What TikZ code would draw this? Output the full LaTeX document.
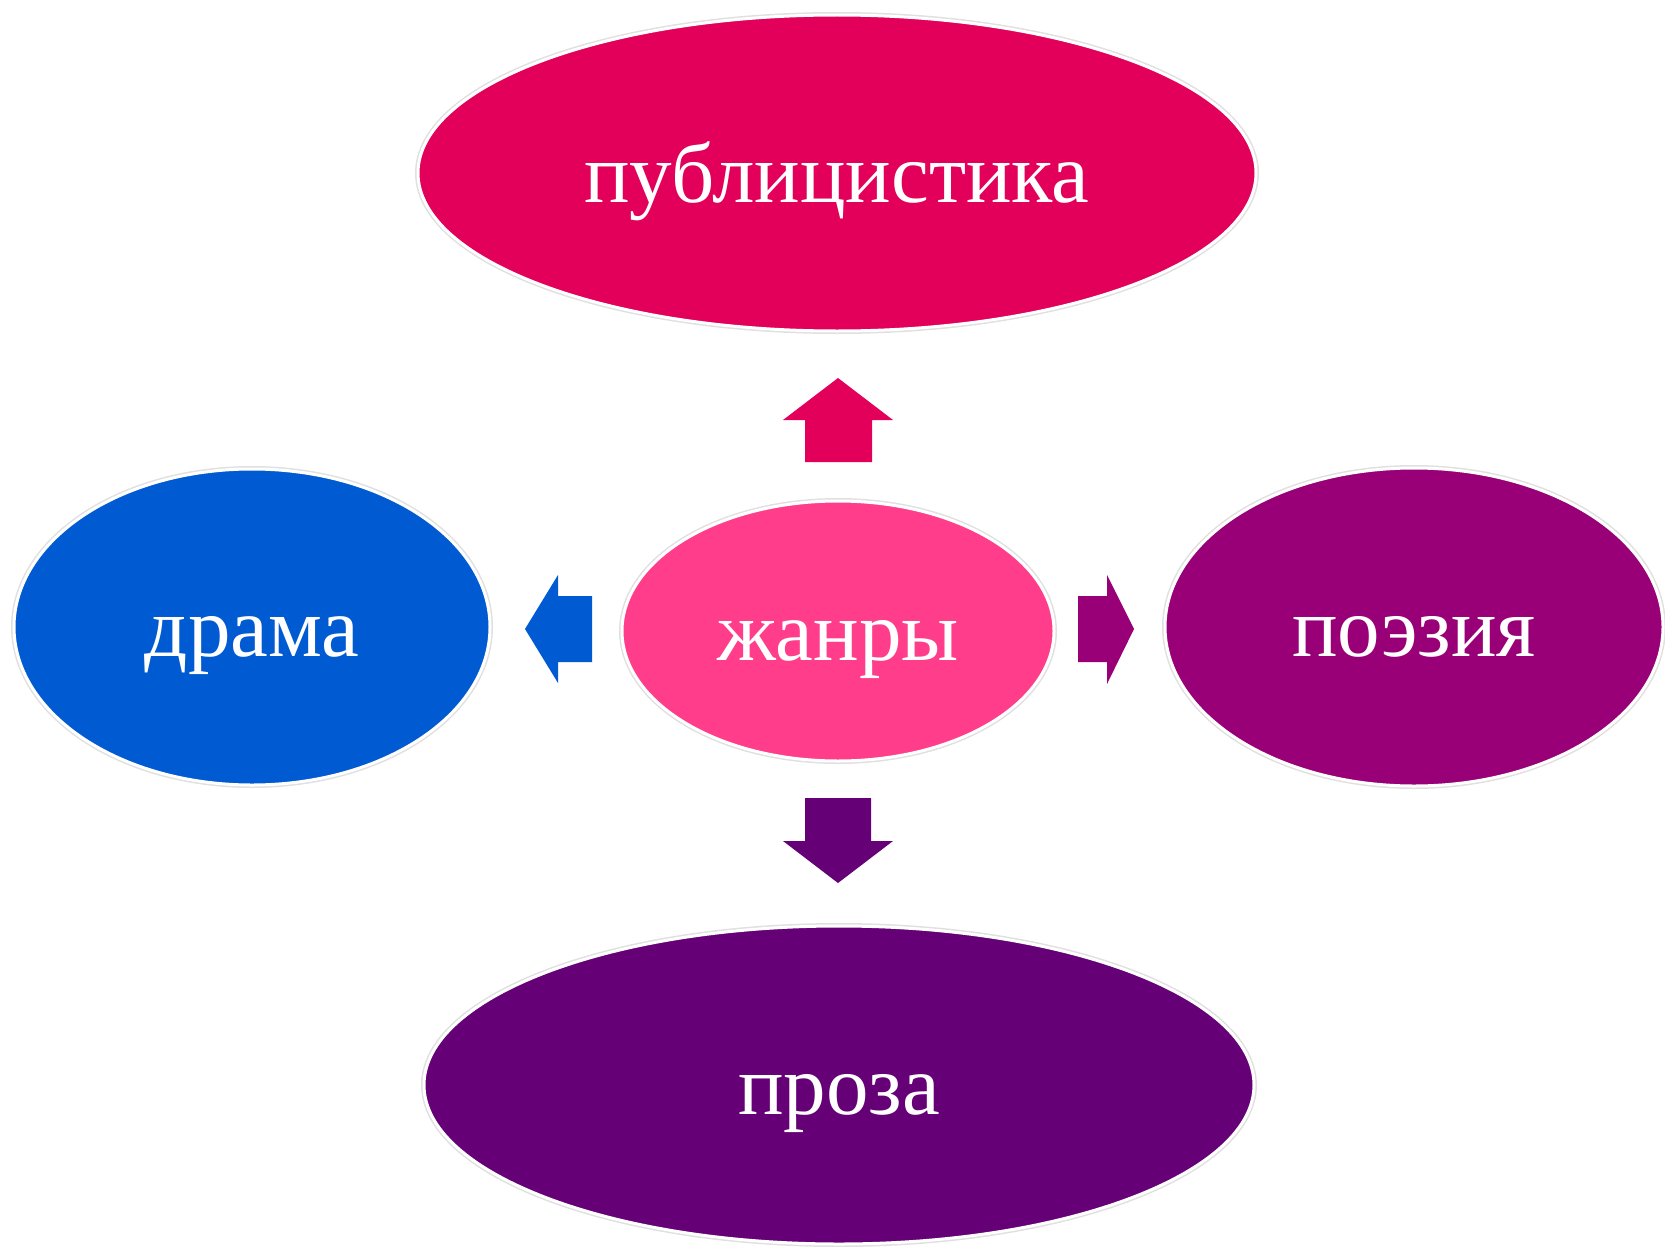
\documentclass[tikz,border=0pt]{standalone}
\usepackage{fontspec}
\setmainfont{Liberation Serif}
\usetikzlibrary{shapes.geometric}
\definecolor{publcol}{HTML}{E2005A}
\definecolor{genrecol}{HTML}{FF3D8B}
\definecolor{dramacol}{HTML}{005BD3}
\definecolor{poetcol}{HTML}{990078}
\definecolor{prosecol}{HTML}{660077}
\tikzset{
  genre/.style={ellipse, inner sep=0pt, text=white, text height=58pt, text depth=0pt,
    font=\fontsize{85}{100}\selectfont,
    preaction={draw=black!12, line width=6pt}, draw=white, line width=3pt}
}

\begin{document}
\begin{tikzpicture}[x=1pt, y=-1pt]
    \useasboundingbox (0,0) rectangle (1665,1247);
    \node[genre, fill=publcol, minimum width=838pt, minimum height=316pt] (publ) at (837,173) {публицистика};
    \node[genre, fill=genrecol, minimum width=432pt, minimum height=260pt] (genres) at (838,631) {жанры};
    \node[genre, fill=dramacol, minimum width=476pt, minimum height=316pt] (drama) at (252,627) {драма};
    \node[genre, fill=poetcol, minimum width=498pt, minimum height=318pt] (poetry) at (1414,627) {поэзия};
    \node[genre, fill=prosecol, minimum width=830pt, minimum height=318pt] (prose) at (839,1085) {проза};
    % block arrows
    \fill[publcol] (805,462) -- (805,420) -- (783,420) -- (838,378) -- (893,420) -- (872,420) -- (872,462) -- cycle;
    \fill[prosecol] (805,798) -- (805,841) -- (783,841) -- (838,883) -- (893,841) -- (871,841) -- (871,798) -- cycle;
    \fill[dramacol] (592,596) -- (558,596) -- (558,575) -- (525,629) -- (558,683) -- (558,662) -- (592,662) -- cycle;
    \fill[poetcol] (1078,596) -- (1107,596) -- (1107,575) -- (1134,629) -- (1107,684) -- (1107,662) -- (1078,662) -- cycle;
\end{tikzpicture}
\end{document}
